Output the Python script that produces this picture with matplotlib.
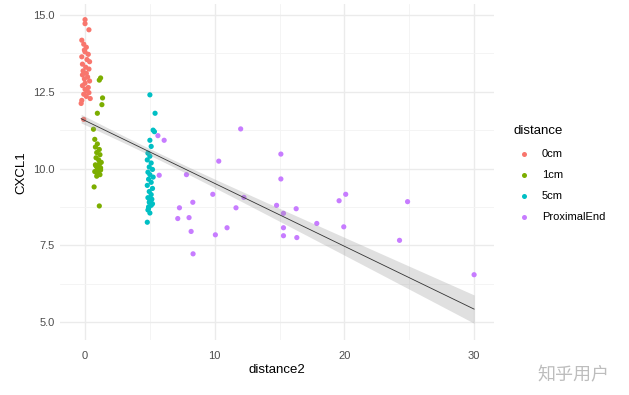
import numpy as np
import matplotlib
matplotlib.use("Agg")
import matplotlib.pyplot as plt
from matplotlib.lines import Line2D

# ---- data ----
categories = ["0cm", "1cm", "5cm", "ProximalEnd"]
colors = ["#F8766D", "#7CAE00", "#00BFC4", "#C77CFF"]

x_0cm = [0.0, 0.0, 0.3, -0.25, -0.1, 0.1, -0.05, 0.0, 0.25, -0.25, 0.15, 0.35, -0.2, 0.05, 0.3,
         -0.15, 0.1, -0.2, 0.2, -0.05, 0.35, 0.0, -0.2, 0.25, 0.0, 0.15, 0.3, -0.1, 0.1, 0.4,
         -0.25, -0.3, -0.1]
y_0cm = [14.85, 14.72, 14.52, 14.18, 14.05, 13.95, 13.86, 13.80, 13.72, 13.64, 13.55, 13.48, 13.40,
         13.30, 13.24, 13.18, 13.10, 13.05, 12.98, 12.92, 12.85, 12.78, 12.70, 12.64, 12.58, 12.52,
         12.47, 12.42, 12.35, 12.28, 12.22, 12.12, 11.60]

x_1cm = [1.2, 1.1, 1.35, 1.3, 0.95, 0.65, 0.75, 0.95, 0.8, 1.1, 0.9, 1.15, 0.85, 1.05, 1.25, 0.8,
         1.1, 0.95, 1.2, 0.75, 1.0, 1.15, 0.9, 0.7, 1.1, 0.9, 1.05, 1.2, 0.85, 1.0, 1.1, 0.95]
y_1cm = [12.95, 12.88, 12.30, 12.08, 11.80, 11.28, 10.95, 10.80, 10.70, 10.62, 10.52, 10.45, 10.35,
         10.28, 10.20, 10.12, 10.05, 10.00, 9.95, 9.90, 9.85, 9.80, 9.75, 9.40, 8.78, 9.88, 9.92,
         10.02, 10.08, 9.97, 10.15, 9.83]

x_5cm = [5.0, 5.4, 5.25, 5.35, 5.0, 5.1, 4.85, 5.0, 4.8, 5.1, 4.95, 5.2, 4.85, 5.0, 5.25, 4.9, 5.1,
         4.8, 5.2, 4.95, 5.1, 4.85, 5.0, 5.2, 4.9, 5.0, 4.8, 4.9, 5.1, 4.95, 5.15, 4.85, 5.05]
y_5cm = [12.40, 11.80, 11.25, 11.20, 10.92, 10.72, 10.50, 10.40, 10.28, 10.18, 10.05, 9.97, 9.88,
         9.80, 9.72, 9.65, 9.55, 9.45, 9.35, 9.25, 9.15, 9.05, 8.95, 8.85, 8.75, 8.55, 8.25, 8.70,
         8.80, 8.90, 9.00, 8.65, 8.95]

x_prox = [5.62, 6.1, 12.0, 10.31, 15.1, 15.1, 5.72, 7.82, 9.85, 8.31, 7.28, 11.64, 12.25, 14.77,
          16.28, 15.3, 7.15, 8.02, 10.95, 8.18, 10.05, 15.3, 15.3, 16.33, 17.87, 19.59, 20.1,
          19.95, 24.87, 24.25, 8.33, 30.0]
y_prox = [11.07, 10.92, 11.29, 10.24, 10.47, 9.66, 9.78, 9.80, 9.16, 8.90, 8.72, 8.72, 9.06, 8.80,
          8.69, 8.54, 8.37, 8.40, 8.07, 7.95, 7.84, 8.07, 7.81, 7.75, 8.21, 8.95, 9.16, 8.10, 8.92,
          7.66, 7.22, 6.54]

xs = [x_0cm, x_1cm, x_5cm, x_prox]
ys = [y_0cm, y_1cm, y_5cm, y_prox]

x_ticks = [0, 10, 20, 30]
y_ticks = [5.0, 7.5, 10.0, 12.5, 15.0]
y_ticklabels = ["5.0", "7.5", "10.0", "12.5", "15.0"]

plt.rcParams["font.family"] = ["Liberation Sans", "DejaVu Sans"]

# ---- figure ----
W, H = 629, 395
fig = plt.figure(figsize=(W / 100, H / 100), dpi=100)
ax = fig.add_axes([60.4 / W, 1 - 340.4 / H, (494.2 - 60.4) / W, (340.4 - 4.3) / H])
ax.set_xlim(-1.9, 31.55)
ax.set_ylim(4.4, 15.35)

# grid (theme_minimal)
for v in x_ticks:
    ax.axvline(v, color="#EBEBEB", lw=1.0, zorder=0)
for v in [5, 15, 25]:
    ax.axvline(v, color="#F3F3F3", lw=0.6, zorder=0)
for v in y_ticks:
    ax.axhline(v, color="#EBEBEB", lw=1.0, zorder=0)
for v in [6.25, 8.75, 11.25, 13.75]:
    ax.axhline(v, color="#F3F3F3", lw=0.6, zorder=0)

for c, x, y, col in zip(categories, xs, ys, colors):
    ax.scatter(x, y, s=14, color=col, edgecolors="none", zorder=3, label=c)

# linear fit with confidence band
X = np.concatenate([np.asarray(a, float) for a in xs])
Y = np.concatenate([np.asarray(a, float) for a in ys])
n = len(X)
b1, b0 = np.polyfit(X, Y, 1)
resid = Y - (b0 + b1 * X)
s = np.sqrt(np.sum(resid ** 2) / (n - 2))
xm = X.mean()
sxx = np.sum((X - xm) ** 2)
xg = np.linspace(X.min(), X.max(), 80)
yg = b0 + b1 * xg
se = s * np.sqrt(1 / n + (xg - xm) ** 2 / sxx)
t = 0.85
ax.fill_between(xg, yg - t * se, yg + t * se, color="#999999", alpha=0.3, lw=0, zorder=4)
ax.plot(xg, yg, color="#333333", lw=0.6, zorder=5)

for sp in ax.spines.values():
    sp.set_visible(False)
ax.set_xticks(x_ticks)
ax.set_xticklabels([str(v) for v in x_ticks])
ax.set_yticks(y_ticks)
ax.set_yticklabels(y_ticklabels)
ax.tick_params(axis="x", length=0, labelsize=8, labelcolor="#4D4D4D", pad=7.5)
ax.tick_params(axis="y", length=0, labelsize=8, labelcolor="#4D4D4D", pad=4)
ax.set_xlabel("distance2", fontsize=9.5, color="black", labelpad=2)
ax.set_ylabel("CXCL1", fontsize=9.5, color="black", labelpad=4)

# legend (drawn manually)
fig.text(514 / W, 1 - 131.5 / H, "distance", fontsize=9.5, color="black", ha="left", va="center")
for i, (c, col) in enumerate(zip(categories, colors)):
    yy = 1 - (154 + 21 * i) / H
    fig.add_artist(Line2D([524 / W], [yy], marker="o", linestyle="none", markersize=3.6,
                          markerfacecolor=col, markeredgecolor="none",
                          transform=fig.transFigure))
    fig.text(542 / W, yy, c, fontsize=8, color="black", ha="left", va="center")

fig.text(573 / W, 1 - 375 / H, "知乎用户", fontsize=13, color="#BDBDBD",
         family=["Noto Sans CJK SC", "DejaVu Sans"], ha="center", va="center")

fig.savefig("out.png", dpi=100)
